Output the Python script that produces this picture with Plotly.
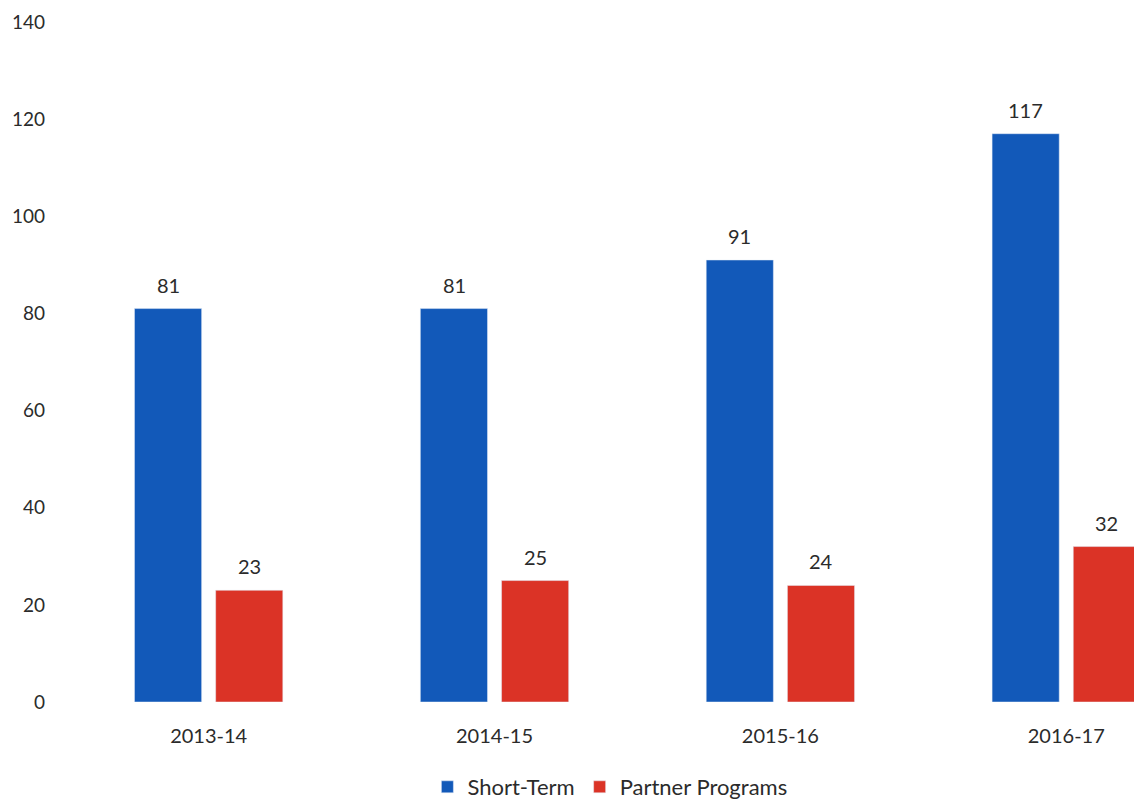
import plotly.graph_objects as go

years = ["2013-14", "2014-15", "2015-16", "2016-17"]
short_term = [81, 81, 91, 117]
partner_programs = [23, 25, 24, 32]

BLUE = "#1259b9"
RED = "#db3326"
TEXT = "#2b2b2b"
FONT = "Lato, 'Open Sans', sans-serif"

fig = go.Figure()
fig.add_trace(go.Bar(name="Short-Term", x=years, y=short_term, marker_color=BLUE))
fig.add_trace(go.Bar(name="Partner Programs", x=years, y=partner_programs, marker_color=RED))

# value labels sit a little higher above each bar than plotly's "outside" text
for series, dx in ((short_term, -40.5), (partner_programs, 40.5)):
    for yr, v in zip(years, series):
        fig.add_annotation(x=yr, y=v, text=str(v), showarrow=False,
                           xshift=dx, yshift=24, yanchor="middle",
                           font=dict(size=20, color=TEXT, family=FONT))

fig.update_layout(
    width=1134, height=808,
    margin=dict(l=60, r=0, t=22, b=106),
    paper_bgcolor="white", plot_bgcolor="white",
    barmode="group", bargap=0.432, bargroupgap=0.173,
    font=dict(family=FONT, size=20, color=TEXT),
    showlegend=True,
    legend=dict(orientation="h", x=0.512, xanchor="center", y=-0.125, yanchor="middle",
                font=dict(size=22, color=TEXT), itemwidth=30, traceorder="normal"),
)
fig.update_xaxes(type="category", range=[-0.52, 3.237], showline=False, showgrid=False,
                 ticks="", ticklabelstandoff=20, tickfont=dict(size=20, color=TEXT))
fig.update_yaxes(range=[0, 140], dtick=20, showgrid=False, zeroline=False, showline=False,
                 ticks="", ticklabelstandoff=14, tickfont=dict(size=19, color=TEXT))

fig.write_html("out.html")
